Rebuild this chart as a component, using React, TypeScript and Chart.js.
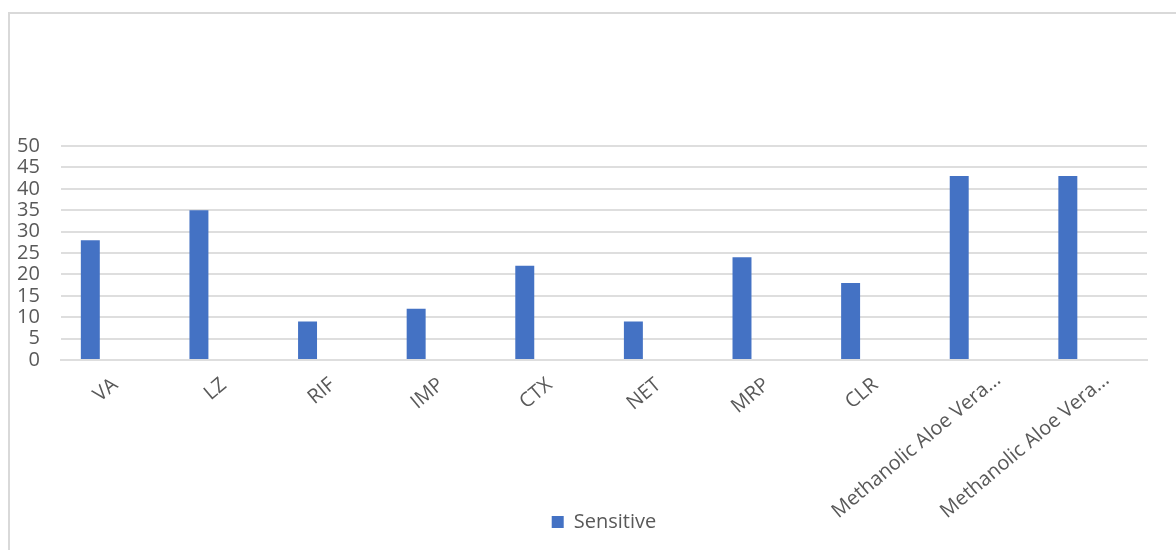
import React, { useEffect, useRef } from "react";
import { Chart, registerables } from "chart.js";

Chart.register(...registerables);

const categories = [
  "VA",
  "LZ",
  "RIF",
  "IMP",
  "CTX",
  "NET",
  "MRP",
  "CLR",
  "Methanolic Aloe Vera...",
  "Methanolic Aloe Vera...",
];
const seriesName = "Sensitive";
const sensitive = [28, 35, 9, 12, 22, 9, 24, 18, 43, 43];
const emptySeriesA: (number | null)[] = categories.map(() => null);
const emptySeriesB: (number | null)[] = categories.map(() => null);
const yTickMin = 0;
const yTickMax = 50;
const yTickStep = 5;

const FONT = "'Open Sans', 'Segoe UI', sans-serif";
const TEXT = "#595959";
const GRID = "#dedede";
const BLUE = "#4472C4";

export default function App() {
  const ref = useRef<HTMLCanvasElement | null>(null);

  useEffect(() => {
    if (!ref.current) return;
    const chart = new Chart(ref.current, {
      type: "bar",
      data: {
        labels: categories,
        datasets: [
          {
            label: seriesName,
            data: sensitive,
            backgroundColor: BLUE,
            borderWidth: 0,
            categoryPercentage: 0.6866,
            barPercentage: 0.763,
          },
          {
            label: "_a",
            data: emptySeriesA,
            backgroundColor: "transparent",
            categoryPercentage: 0.6866,
            barPercentage: 0.763,
          },
          {
            label: "_b",
            data: emptySeriesB,
            backgroundColor: "transparent",
            categoryPercentage: 0.6866,
            barPercentage: 0.763,
          },
        ],
      },
      options: {
        responsive: false,
        animation: false,
        layout: { padding: { top: 132, left: -14, right: 53, bottom: 8 } },
        plugins: {
          tooltip: { enabled: false },
          legend: {
            position: "bottom",
            fullSize: false,
            labels: {
              filter: (item: any) => item.text === seriesName,
              font: { family: FONT, size: 20 },
              color: TEXT,
              boxWidth: 12,
              boxHeight: 12,
              padding: 0,
            },
          },
        },
        scales: {
          x: {
            grid: { display: false, drawTicks: false },
            border: { display: true, color: GRID, width: 2 },
            ticks: {
              font: { family: FONT, size: 20 },
              color: TEXT,
              minRotation: 40,
              maxRotation: 40,
              autoSkip: false,
              padding: 13,
            },
            afterFit: (scale: any) => {
              scale.height = 152;
              if (!scale.__patched) {
                scale._computeLabelArea = () => undefined;
                if (typeof scale._computeLabelItems === "function") {
                  const orig = scale._computeLabelItems.bind(scale);
                  scale._computeLabelItems = (area: any) => {
                    const items = orig(area);
                    items.forEach((it: any) => {
                      const text = String(it.label);
                      if (text.length > 10 && it.options && it.options.translation) {
                        it.options.translation = [
                          it.options.translation[0] + 14,
                          it.options.translation[1] - 5,
                        ];
                      }
                    });
                    return items;
                  };
                }
                scale.__patched = true;
              }
            },
          },
          y: {
            min: yTickMin,
            max: yTickMax,
            grid: { color: GRID, lineWidth: 2, drawTicks: false },
            border: { display: false },
            ticks: {
              stepSize: yTickStep,
              autoSkip: false,
              font: { family: FONT, size: 20 },
              color: TEXT,
              padding: 21,
            },
          },
        },
      },
    });
    return () => chart.destroy();
  }, []);

  return (
    <div
      style={{
        position: "fixed",
        left: 8,
        top: 12,
        width: 1168,
        height: 538,
        overflow: "hidden",
        borderLeft: "2px solid #d9d9d9",
        borderTop: "2px solid #d9d9d9",
        boxSizing: "border-box",
        background: "#fff",
      }}
    >
      <canvas ref={ref} width={1190} height={536} style={{ display: "block" }} />
    </div>
  );
}
